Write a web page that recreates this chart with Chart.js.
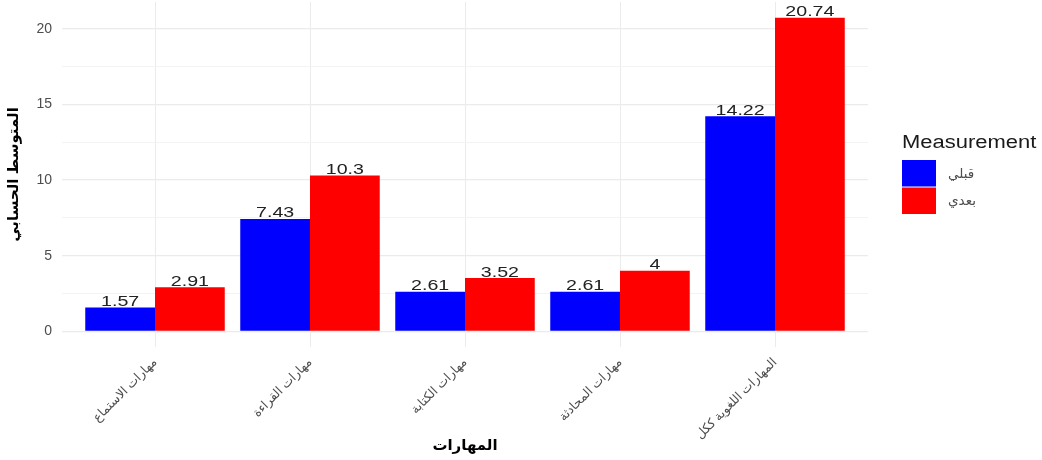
<!DOCTYPE html>
<html>
<head>
<meta charset="utf-8">
<script src="https://cdn.jsdelivr.net/npm/chart.js@4/dist/chart.umd.min.js"></script>
<style>
  html, body { margin: 0; padding: 0; background: #fff; }
</style>
</head>
<body>
<canvas id="skillsChart" width="1042" height="460"></canvas>
<script>
// --- Data ---
const categories = ['مهارات الاستماع', 'مهارات القراءة', 'مهارات الكتابة', 'مهارات المحادثة', 'المهارات اللغوية ككل'];
const beforeValues = [1.57, 7.43, 2.61, 2.61, 14.22];
const afterValues = [2.91, 10.3, 3.52, 4, 20.74];
const seriesNames = ['قبلي', 'بعدي'];
const seriesColors = ['#0000ff', '#ff0000'];
const yGridTicks = [0, 2.5, 5, 7.5, 10, 12.5, 15, 17.5, 20];
const yLabelTicks = [0, 5, 10, 15, 20];
const legendTitle = 'Measurement';
const xTitle = 'المهارات';
const yTitle = 'المتوسط الحسابي';

const FONT = '"Liberation Sans", "DejaVu Sans", sans-serif';

// draw text squeezed/stretched horizontally around (x, y)
function drawStretched(ctx, text, x, y, sx) {
    ctx.save();
    ctx.translate(x, y);
    ctx.scale(sx, 1);
    ctx.fillText(text, 0, 0);
    ctx.restore();
}

// --- Value labels above each bar ---
const barLabels = {
    id: 'barLabels',
    afterDatasetsDraw(chart) {
        const ctx = chart.ctx;
        ctx.save();
        ctx.font = '14px ' + FONT;
        ctx.fillStyle = '#222';
        ctx.textAlign = 'center';
        ctx.textBaseline = 'alphabetic';
        chart.data.datasets.forEach((ds, i) => {
            chart.getDatasetMeta(i).data.forEach((bar, j) => {
                drawStretched(ctx, String(ds.data[j].y), bar.x, bar.y - 1.5, 1.4);
            });
        });
        ctx.restore();
    }
};

// --- Legend on the right (ggplot style) ---
const sideLegend = {
    id: 'sideLegend',
    afterDraw(chart) {
        const ctx = chart.ctx;
        const x0 = chart.chartArea.right + 34;
        ctx.save();
        ctx.textAlign = 'left';
        ctx.textBaseline = 'middle';
        ctx.fillStyle = '#1a1a1a';
        ctx.font = '18px ' + FONT;
        drawStretched(ctx, legendTitle, x0, 143, 1.22);
        chart.data.datasets.forEach((ds, i) => {
            const y = 160 + i * 27.5;
            ctx.fillStyle = ds.backgroundColor;
            ctx.fillRect(x0, y, 34, 26.5);
            ctx.fillStyle = '#4d4d4d';
            ctx.font = '13.5px ' + FONT;
            ctx.fillText(ds.label, x0 + 46, y + 14);
        });
        ctx.restore();
    }
};

const makePoints = values => values.map((v, i) => ({ x: i + 1, y: v }));

new Chart(document.getElementById('skillsChart'), {
    type: 'bar',
    data: {
        datasets: [
            { label: seriesNames[0], data: makePoints(beforeValues), backgroundColor: seriesColors[0] },
            { label: seriesNames[1], data: makePoints(afterValues), backgroundColor: seriesColors[1] }
        ]
    },
    options: {
        responsive: false,
        animation: false,
        layout: { padding: { top: 2, right: 174, left: 0, bottom: 0 } },
        datasets: { bar: { categoryPercentage: 0.9, barPercentage: 1.0 } },
        plugins: {
            legend: { display: false },
            tooltip: { enabled: false }
        },
        scales: {
            x: {
                type: 'linear',
                min: 0.4,
                max: 5.6,
                offset: false,
                afterBuildTicks: scale => { scale.ticks = categories.map((c, i) => ({ value: i + 1 })); },
                afterFit: scale => {
                    scale.height = 113;
                    scale.paddingLeft = 0;
                    scale.paddingRight = 0;
                },
                border: { display: false },
                grid: { color: '#ebebeb', lineWidth: 1, drawTicks: false, offset: false },
                ticks: {
                    autoSkip: false,
                    minRotation: 45,
                    maxRotation: 45,
                    padding: 8,
                    color: '#4d4d4d',
                    font: { family: FONT, size: 12.5 },
                    callback: value => categories[value - 1]
                },
                title: {
                    display: true,
                    text: xTitle,
                    color: '#000',
                    font: { family: FONT, size: 15, weight: 'bold' },
                    padding: { top: 0, bottom: 5 }
                }
            },
            y: {
                min: -1.037,
                max: 21.777,
                afterBuildTicks: scale => { scale.ticks = yGridTicks.map(v => ({ value: v })); },
                afterFit: scale => {
                    scale.width = 62;
                    scale.paddingTop = 0;
                    scale.paddingBottom = 0;
                },
                border: { display: false },
                grid: {
                    drawTicks: false,
                    color: ctx => yLabelTicks.includes(ctx.tick.value) ? '#ebebeb' : '#f3f3f3',
                    lineWidth: ctx => yLabelTicks.includes(ctx.tick.value) ? 1.2 : 1
                },
                ticks: {
                    padding: 10,
                    color: '#4d4d4d',
                    font: { family: FONT, size: 14 },
                    callback: value => yLabelTicks.includes(value) ? String(value) : ''
                },
                title: {
                    display: true,
                    text: yTitle,
                    color: '#000',
                    font: { family: FONT, size: 15, weight: 'bold' },
                    padding: { top: 5, bottom: 0 }
                }
            }
        }
    },
    plugins: [barLabels, sideLegend]
});
</script>
</body>
</html>
